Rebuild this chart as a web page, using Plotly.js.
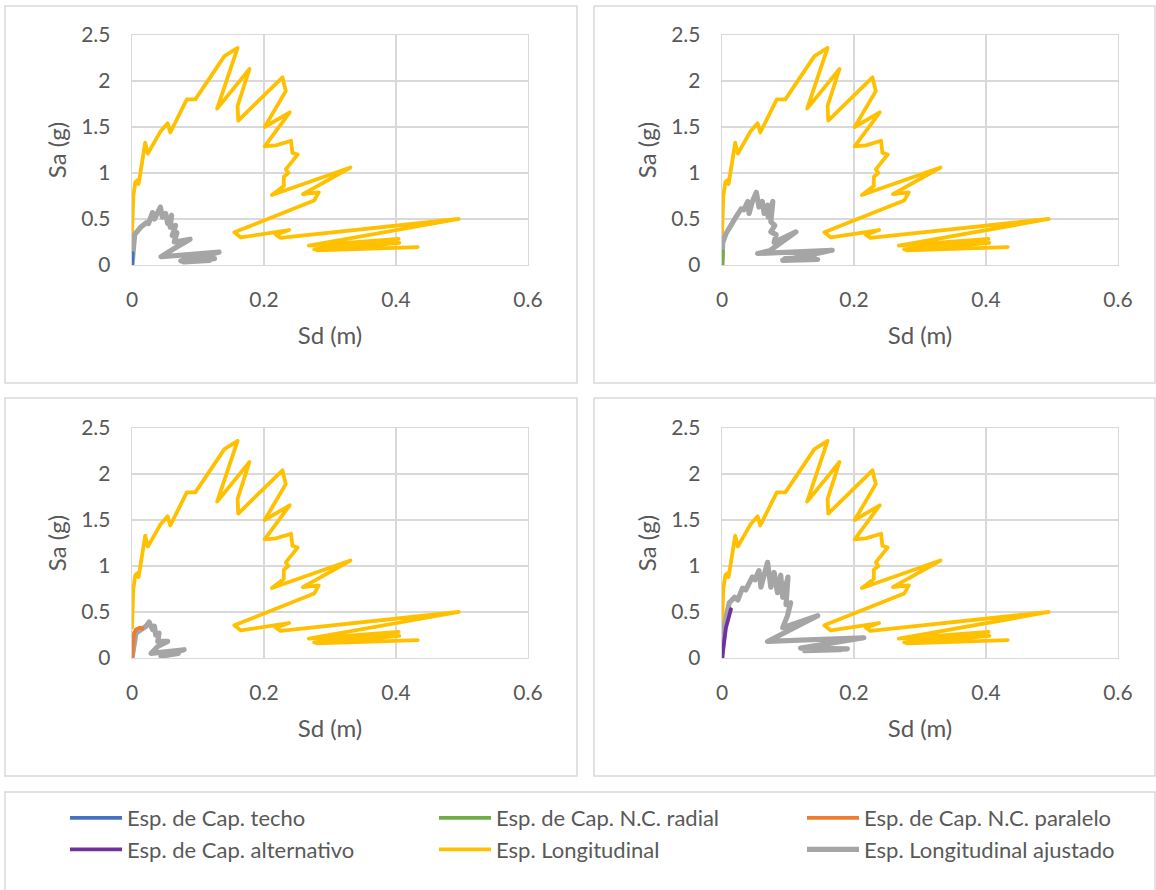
<!DOCTYPE html>
<html>
<head>
<meta charset="utf-8">
<script src="https://cdn.plot.ly/plotly-3.0.1.min.js"></script>
<style>
  html, body { margin: 0; padding: 0; background: #fff; }
  #chart { width: 1156px; height: 890px; }
  .scatterlayer .js-line { stroke-linejoin: round; stroke-linecap: round; }
</style>
</head>
<body>
<div id="chart"></div>
<script>
// ---- Data (Sd in m, Sa in g) ----
const seriesNames = [
  "Esp. de Cap. techo",
  "Esp. de Cap. N.C. radial",
  "Esp. de Cap. N.C. paralelo",
  "Esp. de Cap. alternativo",
  "Esp. Longitudinal",
  "Esp. Longitudinal ajustado"
];
const xTickVals = [0, 0.2, 0.4, 0.6];
const yTickVals = [0, 0.5, 1, 1.5, 2, 2.5];

// Esp. Longitudinal (same in all panels)
const longSd = [0.000, 0.002, 0.005, 0.008, 0.010, 0.020, 0.024, 0.043, 0.054, 0.058, 0.083, 0.096, 0.140, 0.160, 0.129, 0.178, 0.160, 0.161, 0.228, 0.233, 0.201, 0.239, 0.201, 0.218, 0.241, 0.243, 0.251, 0.233, 0.237, 0.230, 0.230, 0.212, 0.331, 0.259, 0.283, 0.276, 0.155, 0.165, 0.238, 0.218, 0.225, 0.495, 0.268, 0.404, 0.276, 0.405, 0.280, 0.433];
const longSa = [0.33, 0.75, 0.90, 0.92, 0.88, 1.33, 1.21, 1.45, 1.54, 1.44, 1.80, 1.80, 2.27, 2.36, 1.70, 2.13, 1.73, 1.57, 2.04, 1.89, 1.50, 1.66, 1.29, 1.30, 1.35, 1.22, 1.20, 1.04, 1.00, 0.96, 0.86, 0.76, 1.06, 0.77, 0.79, 0.70, 0.355, 0.30, 0.38, 0.33, 0.295, 0.50, 0.21, 0.285, 0.17, 0.24, 0.16, 0.195];

// Esp. Longitudinal ajustado, one per panel
const adj1Sd = [0.000, 0.001, 0.004, 0.013, 0.022, 0.025, 0.031, 0.034, 0.039, 0.043, 0.046, 0.051, 0.054, 0.060, 0.058, 0.066, 0.061, 0.068, 0.064, 0.088, 0.064, 0.044, 0.132, 0.074, 0.125, 0.078, 0.118];
const adj1Sa = [0.00, 0.15, 0.33, 0.41, 0.46, 0.45, 0.57, 0.50, 0.59, 0.63, 0.52, 0.56, 0.45, 0.54, 0.41, 0.43, 0.32, 0.35, 0.25, 0.28, 0.18, 0.09, 0.14, 0.045, 0.07, 0.035, 0.05];

const adj2Sd = [0.000, 0.001, 0.006, 0.014, 0.021, 0.029, 0.033, 0.039, 0.041, 0.046, 0.052, 0.056, 0.061, 0.064, 0.069, 0.070, 0.077, 0.074, 0.080, 0.074, 0.082, 0.079, 0.112, 0.072, 0.054, 0.167, 0.092, 0.145, 0.095, 0.140];
const adj2Sa = [0.00, 0.24, 0.34, 0.45, 0.52, 0.61, 0.60, 0.69, 0.56, 0.69, 0.79, 0.63, 0.69, 0.56, 0.65, 0.52, 0.69, 0.47, 0.43, 0.36, 0.33, 0.245, 0.36, 0.154, 0.125, 0.16, 0.05, 0.06, 0.07, 0.08];

const adj3Sd = [0.000, 0.002, 0.006, 0.012, 0.021, 0.026, 0.031, 0.034, 0.036, 0.041, 0.039, 0.054, 0.039, 0.029, 0.079, 0.044, 0.070];
const adj3Sa = [0.00, 0.12, 0.27, 0.30, 0.345, 0.39, 0.31, 0.345, 0.25, 0.27, 0.18, 0.18, 0.125, 0.05, 0.09, 0.02, 0.05];

const adj4Sd = [0.000, 0.001, 0.0035, 0.011, 0.019, 0.024, 0.031, 0.036, 0.046, 0.050, 0.056, 0.059, 0.064, 0.069, 0.074, 0.079, 0.084, 0.089, 0.092, 0.100, 0.097, 0.104, 0.099, 0.092, 0.145, 0.1145, 0.069, 0.215, 0.119, 0.190, 0.125, 0.180];
const adj4Sa = [0.00, 0.20, 0.345, 0.60, 0.66, 0.63, 0.76, 0.74, 0.88, 0.85, 0.95, 0.77, 0.93, 1.04, 0.77, 0.93, 0.71, 0.90, 0.66, 0.88, 0.58, 0.60, 0.455, 0.33, 0.46, 0.345, 0.18, 0.22, 0.107, 0.10, 0.08, 0.09];

// Capacity spectra
const techoSd = [0, 0.0005, 0.001];
const techoSa = [0, 0.07, 0.13];
const radialSd = [0, 0.0005, 0.001];
const radialSa = [0, 0.08, 0.15];
const paraleloSd = [0, 0.001, 0.003, 0.006, 0.012, 0.016];
const paraleloSa = [0, 0.15, 0.27, 0.31, 0.33, 0.32];
const altSd = [0, 0.002, 0.006, 0.0135];
const altSa = [0, 0.12, 0.33, 0.53];

// ---- Styling ----
const colors = {
  techo: "#4472C4", radial: "#70AD47", paralelo: "#ED7D31",
  alt: "#7030A0", long: "#FFC000", adj: "#A5A5A5"
};
const FONT = "Lato, 'Open Sans', sans-serif";
const TXT = "#595959";
const GRID = "#d9d9d9";
const W = 1156, H = 890;
const fx = p => p / W;
const fy = p => 1 - p / H;

const panels = [
  { xa: "x",  ya: "y",  adjSd: adj1Sd, adjSa: adj1Sa, capSd: techoSd,    capSa: techoSa,    capName: seriesNames[0], capColor: colors.techo,    leg: "legend",  rank: 1 },
  { xa: "x2", ya: "y2", adjSd: adj2Sd, adjSa: adj2Sa, capSd: radialSd,   capSa: radialSa,   capName: seriesNames[1], capColor: colors.radial,   leg: "legend2", rank: 1 },
  { xa: "x3", ya: "y3", adjSd: adj3Sd, adjSa: adj3Sa, capSd: paraleloSd, capSa: paraleloSa, capName: seriesNames[2], capColor: colors.paralelo, leg: "legend3", rank: 1 },
  { xa: "x4", ya: "y4", adjSd: adj4Sd, adjSa: adj4Sa, capSd: altSd,      capSa: altSa,      capName: seriesNames[3], capColor: colors.alt,      leg: "legend",  rank: 2 }
];

const traces = [];
panels.forEach((p, i) => {
  traces.push({
    x: longSd, y: longSa, xaxis: p.xa, yaxis: p.ya, mode: "lines", type: "scatter",
    name: seriesNames[4], showlegend: i === 0, legend: "legend2", legendrank: 2,
    line: { color: colors.long, width: 3.8 }, hoverinfo: "skip"
  });
  traces.push({
    x: p.adjSd, y: p.adjSa, xaxis: p.xa, yaxis: p.ya, mode: "lines", type: "scatter",
    name: seriesNames[5], showlegend: i === 0, legend: "legend3", legendrank: 2,
    line: { color: colors.adj, width: 5.2 }, hoverinfo: "skip"
  });
  traces.push({
    x: p.capSd, y: p.capSa, xaxis: p.xa, yaxis: p.ya, mode: "lines", type: "scatter",
    name: p.capName, showlegend: true, legend: p.leg, legendrank: p.rank,
    line: { color: p.capColor, width: 3.8 }, hoverinfo: "skip"
  });
});

function xAxis(domain, anchor) {
  return {
    domain: domain, anchor: anchor, range: [0, 0.6], tickvals: xTickVals,
    showgrid: true, gridcolor: GRID, gridwidth: 1.3, zeroline: false,
    showline: true, linecolor: GRID, linewidth: 1.3, mirror: true,
    ticks: "outside", ticklen: 15, tickcolor: "rgba(0,0,0,0)",
    tickfont: { family: FONT, size: 21, color: TXT },
    title: { text: "Sd (m)", font: { family: FONT, size: 24, color: TXT }, standoff: 17 }
  };
}
function yAxis(domain, anchor) {
  return {
    domain: domain, anchor: anchor, range: [0, 2.5], tickvals: yTickVals,
    showgrid: true, gridcolor: GRID, gridwidth: 1.3, zeroline: false,
    showline: true, linecolor: GRID, linewidth: 1.3, mirror: true,
    ticks: "outside", ticklen: 16, tickcolor: "rgba(0,0,0,0)",
    tickfont: { family: FONT, size: 21, color: TXT },
    title: { text: "Sa (g)", font: { family: FONT, size: 24, color: TXT }, standoff: 7 }
  };
}

const xL = [fx(132), fx(528)], xR = [fx(722), fx(1118)];
const yT = [fy(265), fy(35)], yB = [fy(658), fy(428)];

function box(x0, y0, x1, y1) {
  return { type: "rect", xref: "paper", yref: "paper", x0: fx(x0), x1: fx(x1), y0: fy(y1), y1: fy(y0),
           line: { color: GRID, width: 1.5 }, fillcolor: "rgba(0,0,0,0)", layer: "below" };
}
function legendAt(xpx) {
  return {
    orientation: "v", x: fx(xpx), xanchor: "left", y: fy(797), yanchor: "top",
    itemwidth: 52, traceorder: "normal",
    font: { family: FONT, size: 22, color: TXT },
    bgcolor: "rgba(0,0,0,0)", borderwidth: 0
  };
}

const layout = {
  width: W, height: H,
  margin: { l: 0, r: 0, t: 0, b: 0 },
  paper_bgcolor: "#ffffff", plot_bgcolor: "#ffffff",
  font: { family: FONT, color: TXT },
  showlegend: true,
  xaxis: xAxis(xL, "y"), yaxis: yAxis(yT, "x"),
  xaxis2: xAxis(xR, "y2"), yaxis2: yAxis(yT, "x2"),
  xaxis3: xAxis(xL, "y3"), yaxis3: yAxis(yB, "x3"),
  xaxis4: xAxis(xR, "y4"), yaxis4: yAxis(yB, "x4"),
  legend: legendAt(65),
  legend2: legendAt(434),
  legend3: legendAt(802),
  shapes: [
    box(5, 6, 577, 383),
    box(594, 6, 1155, 383),
    box(5, 398, 577, 776),
    box(594, 398, 1155, 776),
    box(5, 792, 1155, 900)
  ]
};

Plotly.newPlot("chart", traces, layout, { staticPlot: true, displayModeBar: false });
</script>
</body>
</html>
